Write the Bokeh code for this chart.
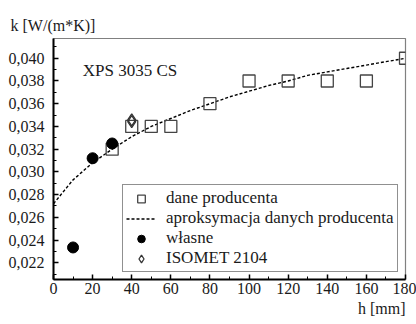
from bokeh.plotting import figure
from bokeh.models import Range1d, Label, Legend, LegendItem, FixedTicker, CustomJSTickFormatter, Title
from bokeh.embed import file_html
from bokeh.resources import INLINE

# Thermal conductivity k vs thickness h for XPS 3035 CS
prod_h = [30, 40, 50, 60, 80, 100, 120, 140, 160, 180]
prod_k = [0.032, 0.034, 0.034, 0.034, 0.036, 0.038, 0.038, 0.038, 0.038, 0.040]

fit_h = [0, 10, 20, 30, 40, 50, 60, 70, 80, 90, 100, 110, 120, 130, 140, 150, 160, 170, 180]
fit_k = [0.0272, 0.0293, 0.0308, 0.0320, 0.0331, 0.0340, 0.0347, 0.0354, 0.0360, 0.0366,
         0.0371, 0.0376, 0.0380, 0.0385, 0.0388, 0.0391, 0.0394, 0.0397, 0.0400]

own_h = [10, 20, 30]
own_k = [0.02335, 0.0312, 0.0325]

isomet_h = [40, 40]
isomet_k = [0.03442, 0.03458]

x_ticks = [0, 20, 40, 60, 80, 100, 120, 140, 160, 180]
y_ticks = [0.022, 0.024, 0.026, 0.028, 0.030, 0.032, 0.034, 0.036, 0.038, 0.040]

FONT = "Liberation Serif"
INK = "#1a1a1a"

p = figure(width=416, height=324, output_backend="svg", toolbar_location=None,
           x_range=Range1d(0, 180), y_range=Range1d(0.02053, 0.04174),
           min_border_left=53, min_border_right=11, min_border_top=38, min_border_bottom=45)
p.grid.visible = False
p.outline_line_color = "#808080"
p.outline_line_width = 1.2
p.background_fill_color = "white"
p.border_fill_color = "white"

# quantity label in the top-left corner
p.title.text = "k [W/(m*K)]"
p.title.align = "left"
p.title.offset = -43
p.title.text_font = FONT
p.title.text_font_size = "16px"
p.title.text_font_style = "normal"
p.title.text_color = INK
p.title.standoff = 10

for ax in (p.xaxis[0], p.yaxis[0]):
    ax.major_tick_in = 5
    ax.major_tick_out = 0
    ax.minor_tick_in = 3
    ax.minor_tick_out = 0
    ax.axis_line_width = 2
    ax.major_tick_line_width = 1.5
    ax.major_label_text_font = FONT
    ax.major_label_text_font_size = "16px"
    ax.major_label_text_color = INK

xa = p.xaxis[0]
xa.ticker = FixedTicker(ticks=x_ticks, minor_ticks=list(range(10, 180, 20)))
xa.major_label_standoff = 3

ya = p.yaxis[0]
ya.ticker = FixedTicker(ticks=y_ticks, minor_ticks=[0.021 + 0.002 * i for i in range(11)])
ya.formatter = CustomJSTickFormatter(code="return tick.toFixed(3).replace('.', ',');")
ya.major_label_standoff = 9

# x quantity label, right-aligned under the axis
p.add_layout(Title(text="h [mm]", align="right", text_font=FONT, text_font_size="16px",
                   text_font_style="normal", text_color=INK, standoff=2), "below")

r_fit = p.line(fit_h, fit_k, line_color="black", line_width=1.4, line_dash="3 2")
r_prod = p.scatter(prod_h, prod_k, marker="square", size=12, fill_color=None,
                   line_color="#444444", line_width=1.3)
r_own = p.scatter(own_h, own_k, marker="circle", size=11, fill_color="black", line_color="black")
r_iso = p.scatter(isomet_h, isomet_k, marker="diamond", size=12, fill_color=None,
                  line_color="#333333", line_width=1.3)

legend = Legend(items=[
    LegendItem(label="dane producenta", renderers=[r_prod]),
    LegendItem(label="aproksymacja danych producenta", renderers=[r_fit]),
    LegendItem(label="własne", renderers=[r_own]),
    LegendItem(label="ISOMET 2104", renderers=[r_iso]),
], location=(69, 7), border_line_color="#222222", border_line_width=1,
   background_fill_color="white", background_fill_alpha=1,
   label_text_font=FONT, label_text_font_size="17px", label_text_color=INK,
   glyph_width=30, glyph_height=19, label_height=19, spacing=0, padding=3,
   label_standoff=10, margin=0)
p.add_layout(legend, "center")

p.add_layout(Label(x=15, y=0.0389, text="XPS 3035 CS", text_font=FONT, text_font_size="17px",
                   text_color=INK, text_baseline="alphabetic"))

open("out.html", "w").write(file_html(p, INLINE))
